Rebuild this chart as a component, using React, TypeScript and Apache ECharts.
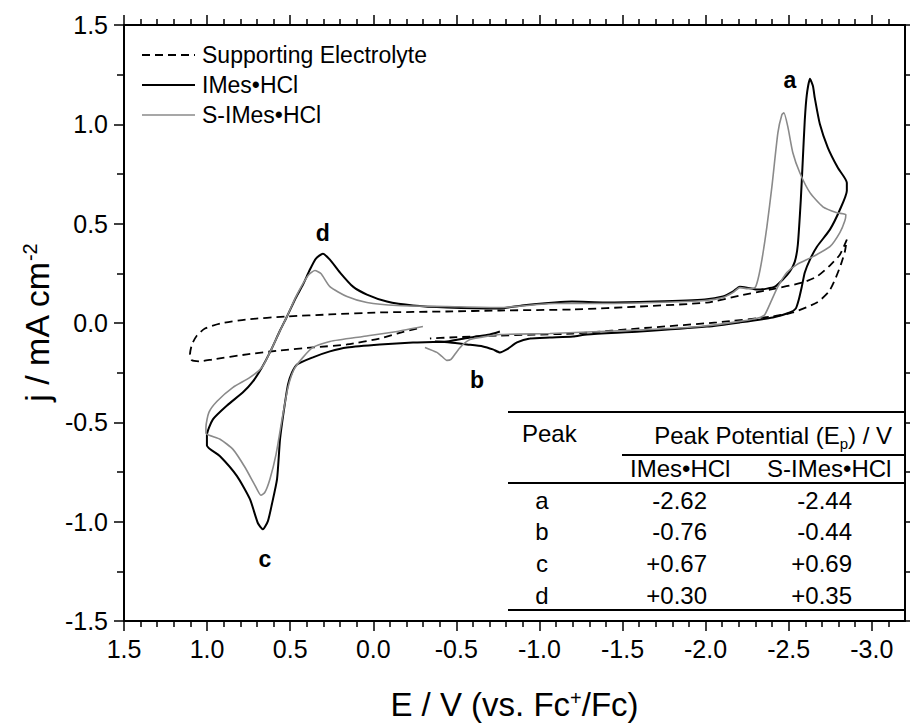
import React, { useEffect, useRef } from 'react';
import * as echarts from 'echarts';

const FONT = "'Liberation Sans', Arial, Helvetica, sans-serif";

const seriesNames = ['Supporting Electrolyte', 'IMes•HCl', 'S-IMes•HCl'];
const seriesColors = ['#000', '#000', '#8a8a8a'];
const seriesWidths = [1.8, 2, 1.6];
const seriesDash: any[] = [[8, 5], 'solid', 'solid'];

// E (V vs Fc+/Fc), j (mA cm-2)
const electrolyte: [number, number][] = [
  [-0.263, -0.028], [-0.143, -0.053], [-0.040, -0.078], [0.158, -0.108], [0.363, -0.123],
  [0.561, -0.138], [0.760, -0.158], [0.965, -0.183], [1.043, -0.193], [1.091, -0.188],
  [1.103, -0.158], [1.091, -0.108], [1.061, -0.063], [1.013, -0.028], [0.922, -0.003],
  [0.760, 0.018], [0.519, 0.033], [0.261, 0.043], [-0.040, 0.053], [-0.443, 0.058],
  [-0.762, 0.063], [-1.202, 0.068], [-1.605, 0.083], [-2.008, 0.103], [-2.206, 0.138],
  [-2.387, 0.168], [-2.585, 0.204], [-2.670, 0.234], [-2.748, 0.289], [-2.808, 0.344],
  [-2.850, 0.420], [-2.838, 0.359], [-2.814, 0.294], [-2.784, 0.229], [-2.742, 0.158],
  [-2.670, 0.103], [-2.525, 0.053], [-2.405, 0.033], [-2.068, 0.003], [-1.665, -0.023],
  [-1.202, -0.053], [-0.762, -0.063], [-0.461, -0.073], [-0.341, -0.078],
];

const imes: [number, number][] = [
  [-0.762, -0.043], [-0.702, -0.058], [-0.582, -0.073], [-0.443, -0.093], [-0.239, -0.098],
  [-0.040, -0.108], [0.158, -0.123], [0.261, -0.143], [0.363, -0.173], [0.459, -0.209],
  [0.489, -0.249], [0.513, -0.309], [0.537, -0.435], [0.561, -0.585], [0.579, -0.786],
  [0.610, -0.912], [0.634, -0.997], [0.664, -1.038], [0.694, -1.008], [0.742, -0.887],
  [0.820, -0.771], [0.922, -0.671], [1.001, -0.616], [1.001, -0.565], [0.965, -0.485],
  [0.880, -0.415], [0.784, -0.349], [0.724, -0.294], [0.670, -0.224], [0.622, -0.148],
  [0.561, -0.038], [0.519, 0.033], [0.465, 0.128], [0.423, 0.193], [0.381, 0.269],
  [0.345, 0.324], [0.303, 0.349], [0.261, 0.319], [0.200, 0.254], [0.122, 0.183],
  [0.038, 0.143], [-0.082, 0.108], [-0.239, 0.088], [-0.443, 0.078], [-0.762, 0.073],
  [-0.895, 0.088], [-1.093, 0.103], [-1.196, 0.108], [-1.394, 0.103], [-1.695, 0.108],
  [-1.996, 0.118], [-2.104, 0.133], [-2.164, 0.158], [-2.206, 0.183], [-2.249, 0.178],
  [-2.309, 0.168], [-2.369, 0.173], [-2.417, 0.183], [-2.465, 0.219], [-2.507, 0.259],
  [-2.537, 0.309], [-2.555, 0.394], [-2.573, 0.621], [-2.585, 0.822], [-2.597, 1.023],
  [-2.609, 1.148], [-2.628, 1.229], [-2.646, 1.193], [-2.657, 1.133], [-2.688, 1.0],
  [-2.736, 0.882], [-2.796, 0.781], [-2.850, 0.706], [-2.850, 0.666], [-2.808, 0.570],
  [-2.748, 0.470], [-2.670, 0.384], [-2.628, 0.319], [-2.597, 0.254], [-2.579, 0.183],
  [-2.561, 0.118], [-2.543, 0.073], [-2.507, 0.053], [-2.405, 0.028], [-2.206, 0.003],
  [-2.008, -0.018], [-1.605, -0.043], [-1.286, -0.058], [-1.202, -0.068], [-1.063, -0.073],
  [-0.943, -0.078], [-0.865, -0.098], [-0.804, -0.133], [-0.762, -0.148], [-0.720, -0.133],
  [-0.660, -0.118], [-0.564, -0.108], [-0.461, -0.098], [-0.371, -0.093],
];

const simes: [number, number][] = [
  [-0.299, -0.018], [-0.143, -0.043], [0.062, -0.068], [0.261, -0.093], [0.363, -0.123],
  [0.423, -0.173], [0.477, -0.234], [0.513, -0.324], [0.549, -0.485], [0.585, -0.661],
  [0.622, -0.786], [0.652, -0.852], [0.676, -0.867], [0.712, -0.817], [0.772, -0.726],
  [0.844, -0.636], [0.922, -0.585], [1.007, -0.555], [1.007, -0.525], [0.989, -0.450],
  [0.940, -0.394], [0.844, -0.324], [0.742, -0.274], [0.670, -0.224], [0.622, -0.148],
  [0.561, -0.038], [0.519, 0.033], [0.465, 0.133], [0.423, 0.198], [0.387, 0.244],
  [0.351, 0.264], [0.315, 0.249], [0.261, 0.183], [0.158, 0.133], [0.038, 0.103],
  [-0.143, 0.088], [-0.443, 0.083], [-0.762, 0.078], [-1.093, 0.098], [-1.394, 0.098],
  [-1.695, 0.103], [-1.996, 0.113], [-2.104, 0.128], [-2.164, 0.153], [-2.206, 0.178],
  [-2.255, 0.173], [-2.297, 0.178], [-2.315, 0.219], [-2.339, 0.319], [-2.369, 0.485],
  [-2.399, 0.686], [-2.435, 0.957], [-2.459, 1.048], [-2.471, 1.058], [-2.495, 0.987],
  [-2.525, 0.857], [-2.567, 0.756], [-2.628, 0.656], [-2.706, 0.585], [-2.790, 0.555],
  [-2.844, 0.545], [-2.838, 0.515], [-2.808, 0.455], [-2.748, 0.384], [-2.646, 0.334],
  [-2.549, 0.294], [-2.489, 0.254], [-2.435, 0.183], [-2.399, 0.118], [-2.357, 0.043],
  [-2.327, 0.028], [-2.206, 0.008], [-1.966, -0.018], [-1.665, -0.033], [-1.364, -0.043],
  [-1.063, -0.053], [-0.762, -0.058], [-0.642, -0.073], [-0.582, -0.083], [-0.540, -0.108],
  [-0.504, -0.143], [-0.468, -0.183], [-0.443, -0.188], [-0.413, -0.168], [-0.383, -0.148],
  [-0.311, -0.123],
];

const xMajorTicks = [1.5, 1.0, 0.5, 0.0, -0.5, -1.0, -1.5, -2.0, -2.5, -3.0];
const xMinorTicks = [
  1.4, 1.3, 1.2, 1.1, 0.9, 0.8, 0.7, 0.6, 0.4, 0.3, 0.2, 0.1, -0.1, -0.2, -0.3, -0.4,
  -0.6, -0.7, -0.8, -0.9, -1.1, -1.2, -1.3, -1.4, -1.6, -1.7, -1.8, -1.9, -2.1, -2.2,
  -2.3, -2.4, -2.6, -2.7, -2.8, -2.9, -3.1,
];

const peakLabels = ['a', 'b', 'c', 'd'];
const peakLabelPos: [number, number][] = [[-2.507, 1.224], [-0.624, -0.289], [0.652, -1.188], [0.303, 0.455]];

const tablePeaks = ['a', 'b', 'c', 'd'];
const tableIMes = ['-2.62', '-0.76', '+0.67', '+0.30'];
const tableSIMes = ['-2.44', '-0.44', '+0.69', '+0.35'];

function buildLegend(): any[] {
  const els: any[] = [];
  seriesNames.forEach((n, i) => {
    const y = 55 + i * 30;
    els.push({
      type: 'line', silent: true,
      shape: { x1: 142, y1: y, x2: 195, y2: y },
      style: {
        stroke: seriesColors[i], lineWidth: seriesWidths[i],
        lineDash: Array.isArray(seriesDash[i]) ? seriesDash[i] : null,
      },
    });
    els.push({
      type: 'text', silent: true, x: 202, y,
      style: { text: n, fontSize: 23, fontFamily: FONT, fill: '#000', align: 'left', verticalAlign: 'middle' },
    });
  });
  return els;
}

function buildTable(): any[] {
  const els: any[] = [];
  const rule = (y: number, x1: number) => ({
    type: 'line', silent: true,
    shape: { x1, y1: y, x2: 905, y2: y },
    style: { stroke: '#000', lineWidth: 2 },
  });
  els.push(rule(412, 508), rule(455, 622), rule(483, 508), rule(610, 508));
  const txt = (text: string, x: number, y: number, align: string, rich?: any) => ({
    type: 'text', silent: true, x, y,
    style: {
      text, fontSize: 24, fontFamily: FONT, fill: '#000',
      align, verticalAlign: 'middle', rich,
    },
  });
  els.push(txt('Peak', 522, 433, 'left'));
  els.push(txt('{t|Peak Potential (E}{s|p}{t|) / V}', 892, 435, 'right', {
    t: { fontSize: 24, fontFamily: FONT, fill: '#000', lineHeight: 32 },
    s: { fontSize: 15, fontFamily: FONT, fill: '#000', verticalAlign: 'bottom' },
  }));
  els.push(txt('IMes•HCl', 630, 468, 'left'));
  els.push(txt('S-IMes•HCl', 767, 468, 'left'));
  const rowY = [500, 531, 563, 595];
  tablePeaks.forEach((p, i) => {
    els.push(txt(p, 542, rowY[i], 'center'));
    els.push(txt(tableIMes[i], 707, rowY[i], 'right'));
    els.push(txt(tableSIMes[i], 852, rowY[i], 'right'));
  });
  return els;
}

export default function App() {
  const ref = useRef<HTMLDivElement>(null);
  useEffect(() => {
    document.body.style.margin = '0';
    const chart = echarts.init(ref.current!, null, { renderer: 'svg', width: 910, height: 726 });
    const axisLine = { show: true, onZero: false, lineStyle: { color: '#000', width: 2 } };
    const tickStyle = { color: '#000', width: 1.5 };
    const xBase = { type: 'value', min: -3.2, max: 1.5, inverse: true, splitLine: { show: false } };
    const option: any = {
      animation: false,
      backgroundColor: '#fff',
      grid: { left: 124, right: 5, top: 25, bottom: 104, containLabel: false },
      xAxis: [
        {
          ...xBase, position: 'bottom',
          axisLine,
          axisTick: { show: true, length: 10, lineStyle: tickStyle, customValues: xMajorTicks },
          axisLabel: {
            show: true, customValues: xMajorTicks, formatter: (v: number) => v.toFixed(1),
            fontSize: 25, fontFamily: FONT, color: '#000', margin: 15,
          },
          name: '{t|E / V (vs. Fc}{s|+}{t|/Fc)}',
          nameLocation: 'middle',
          nameGap: 67,
          nameTextStyle: {
            fontSize: 33, fontFamily: FONT, color: '#000',
            rich: {
              t: { fontSize: 33, fontFamily: FONT, color: '#000' },
              s: { fontSize: 20, fontFamily: FONT, color: '#000', verticalAlign: 'top' },
            },
          },
        },
        {
          ...xBase, position: 'bottom',
          axisLine: { show: false, onZero: false },
          axisTick: { show: true, length: 6, lineStyle: tickStyle, customValues: xMinorTicks },
          axisLabel: { show: false },
        },
        {
          ...xBase, position: 'top',
          axisLine,
          axisTick: { show: true, length: 10, lineStyle: tickStyle, customValues: xMajorTicks },
          axisLabel: { show: false },
        },
        {
          ...xBase, position: 'top',
          axisLine: { show: false, onZero: false },
          axisTick: { show: true, length: 6, lineStyle: tickStyle, customValues: xMinorTicks },
          axisLabel: { show: false },
        },
      ],
      yAxis: [
        {
          type: 'value', min: -1.5, max: 1.5, interval: 0.5, position: 'left',
          axisLine,
          axisTick: { show: true, length: 10, lineStyle: tickStyle },
          minorTick: { show: true, splitNumber: 2, length: 7, lineStyle: tickStyle },
          axisLabel: {
            formatter: (v: number) => v.toFixed(1),
            fontSize: 25, fontFamily: FONT, color: '#000', margin: 16,
          },
          splitLine: { show: false },
          minorSplitLine: { show: false },
          name: '{t|j / mA cm}{s|-2}',
          nameLocation: 'middle',
          nameGap: 70,
          nameTextStyle: {
            fontSize: 34, fontFamily: FONT, color: '#000',
            rich: {
              t: { fontSize: 34, fontFamily: FONT, color: '#000' },
              s: { fontSize: 20, fontFamily: FONT, color: '#000', verticalAlign: 'top' },
            },
          },
        },
        {
          type: 'value', min: -1.5, max: 1.5, interval: 0.5, position: 'right',
          axisLine,
          axisTick: { show: true, length: 10, lineStyle: tickStyle },
          minorTick: { show: true, splitNumber: 2, length: 7, lineStyle: tickStyle },
          axisLabel: { show: false },
          splitLine: { show: false },
          minorSplitLine: { show: false },
        },
      ],
      series: [
        ...[electrolyte, imes, simes].map((d, i) => ({
          name: seriesNames[i], type: 'line', data: d, symbol: 'none', smooth: 0.2,
          lineStyle: { color: seriesColors[i], width: seriesWidths[i], type: seriesDash[i] },
          itemStyle: { color: seriesColors[i] },
          z: 2 + i,
        })),
        {
          name: 'peaks', type: 'scatter', silent: true, symbol: 'circle', symbolSize: 0,
          itemStyle: { color: '#000' },
          data: peakLabels.map((n, i) => ({ name: n, value: peakLabelPos[i] })),
          label: {
            show: true, position: 'inside', formatter: '{b}', fontSize: 23,
            fontWeight: 'bold', fontFamily: FONT, color: '#000', textBorderWidth: 0, opacity: 1,
          },
          z: 5,
        },
      ],
      graphic: [...buildLegend(), ...buildTable()],
    };
    chart.setOption(option);
    return () => chart.dispose();
  }, []);
  return <div ref={ref} style={{ position: 'absolute', left: 0, top: 0, width: 910, height: 726 }} />;
}
